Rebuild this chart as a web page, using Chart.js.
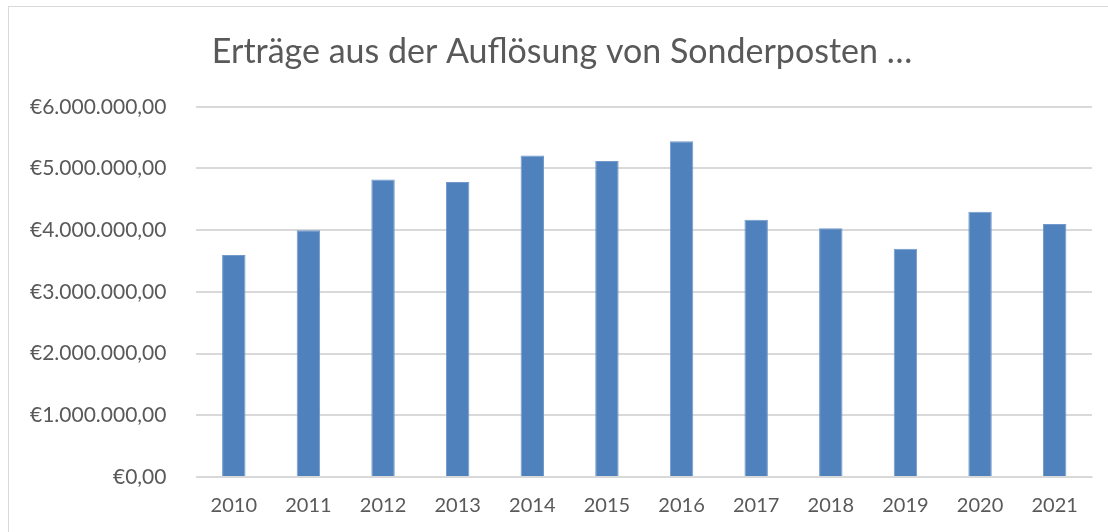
<!DOCTYPE html>
<html>
<head>
<meta charset="utf-8">
<script src="https://cdn.jsdelivr.net/npm/chart.js@4"></script>
<style>
  html, body { margin: 0; padding: 0; background: #fff; overflow: hidden; }
  #box { position: absolute; left: 8px; top: 6px; width: 1120px; height: 540px; border: 1px solid #d9d9d9; box-sizing: border-box; }
  #wrap { position: absolute; left: 0; top: 0; width: 1108px; height: 535px; }
</style>
</head>
<body>
<div id="box"></div>
<div id="wrap"><canvas id="chart"></canvas></div>
<script>
// datos del grafico
const jahre = ['2010', '2011', '2012', '2013', '2014', '2015', '2016', '2017', '2018', '2019', '2020', '2021'];
const ertraege = [3600000, 4000000, 4820000, 4780000, 5210000, 5120000, 5440000, 4170000, 4030000, 3700000, 4300000, 4100000];
const titel = 'Erträge aus der Auflösung von Sonderposten …';

// formato euro alemán
function euro(v) {
    const teile = Math.round(v).toString().replace(/\B(?=(\d{3})+(?!\d))/g, '.');
    return '€' + teile + ',00';
}

// desplazar el titulo un poco a la derecha
const tituloOffset = {
    id: 'tituloOffset',
    afterLayout: function(chart) {
        if (chart.titleBlock) {
            chart.titleBlock.left += 32;
        }
    }
};

const ctx = document.getElementById('chart').getContext('2d');
new Chart(ctx, {
    type: 'bar',
    data: {
        labels: jahre,
        datasets: [{
            label: titel,
            data: ertraege,
            backgroundColor: '#4f81bd',
            borderColor: '#7399cc',
            borderWidth: 1,
            barPercentage: 0.314,
            categoryPercentage: 1
        }]
    },
    options: {
        responsive: true,
        maintainAspectRatio: false,
        animation: false,
        layout: { padding: { left: 0, right: 16, top: 6, bottom: 0 } },
        scales: {
            x: {
                grid: { display: false, drawTicks: false },
                border: { color: '#d9d9d9', width: 1 },
                ticks: { color: '#595959', font: { family: 'Lato', size: 20 }, padding: 17, maxRotation: 0 }
            },
            y: {
                min: 0,
                max: 6000000,
                grid: { color: '#d9d9d9', lineWidth: 2, drawTicks: false },
                border: { display: false },
                ticks: {
                    stepSize: 1000000,
                    color: '#595959',
                    font: { family: 'Lato', size: 21 },
                    padding: 30,
                    callback: function(v) { return euro(v); }
                }
            }
        },
        plugins: {
            legend: { display: false },
            tooltip: { enabled: false },
            title: {
                display: true,
                text: titel,
                color: '#595959',
                font: { family: 'Lato', size: 34, weight: 'normal' },
                padding: { top: 26, bottom: 34 }
            }
        }
    },
    plugins: [tituloOffset]
});
</script>
</body>
</html>
